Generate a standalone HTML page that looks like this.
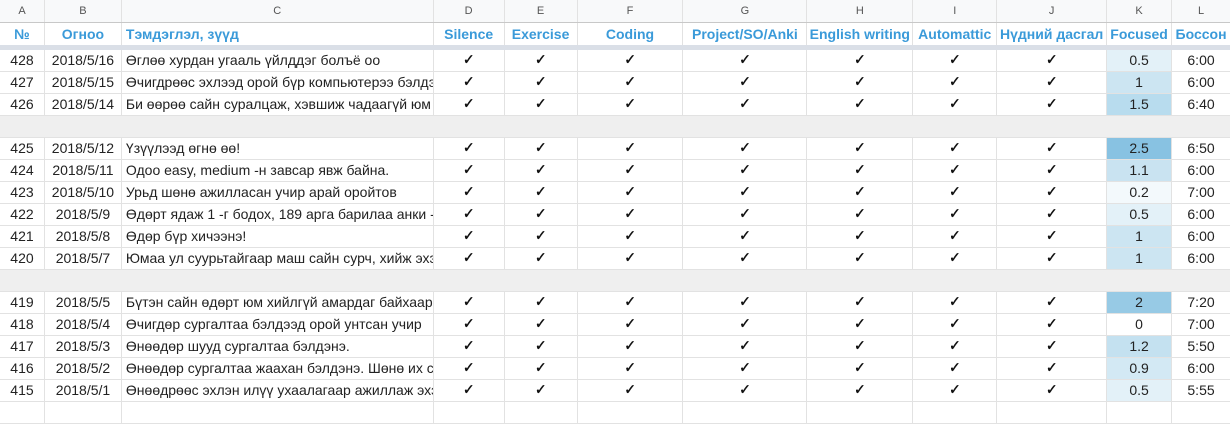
<!DOCTYPE html>
<html><head><meta charset="utf-8"><style>
*{margin:0;padding:0;box-sizing:border-box}
body{width:1230px;height:413px;overflow:hidden;background:#fff;font-family:"Liberation Sans",Arial,sans-serif;font-size:14px;color:#222;position:relative}
.r{position:absolute;left:0;width:1230px;height:22px;border-bottom:1px solid #e2e2e2;display:flex}
.r>div{height:100%;border-right:1px solid #e2e2e2;text-align:center;line-height:21px;white-space:nowrap;overflow:hidden}
.r>div:nth-child(1){width:45px}.r>div:nth-child(2){width:77px}.r>div:nth-child(3){width:312px;text-align:left;padding-left:4px}
.r>div:nth-child(4){width:71px}.r>div:nth-child(5){width:73px}.r>div:nth-child(6){width:106px}.r>div:nth-child(7){width:124px}
.r>div:nth-child(8){width:106px}.r>div:nth-child(9){width:84px}.r>div:nth-child(10){width:110px}.r>div:nth-child(11){width:65px}.r>div:nth-child(12){width:58px;border-right:none}
.cl{background:#f8f9fa;border-bottom:1px solid #c8c8c8 !important;height:23px !important}
.cl>div{font-size:11px;color:#555;line-height:22px}
.r.cl>div:nth-child(3){text-align:center;padding-left:0}
.hd>div{color:#3a9ad9;font-weight:bold;font-size:14px;line-height:23px}
.ck{font-family:"DejaVu Sans",sans-serif;font-size:14px;font-weight:bold;text-shadow:0.5px 0 0 #222,0 0.5px 0 #222;color:#111}
.g{position:absolute;left:0;width:1230px;height:22px;background:#efefef;border-bottom:1px solid #e2e2e2}
</style></head><body>
<div class="r cl" style="top:0"><div>A</div><div>B</div><div>C</div><div>D</div><div>E</div><div>F</div><div>G</div><div>H</div><div>I</div><div>J</div><div>K</div><div>L</div></div>
<div class="r hd" style="top:23px;border-bottom:none"><div>№</div><div>Огноо</div><div>Тэмдэглэл, зүүд</div><div>Silence</div><div>Exercise</div><div>Coding</div><div>Project/SO/Anki</div><div>English writing</div><div>Automattic</div><div>Нүдний дасгал</div><div>Focused</div><div>Боссон</div></div>
<div style="position:absolute;top:45px;left:0;width:1230px;height:5px;background:#dadfe7"></div>

<div class="r" style="top:50px"><div>428</div><div>2018/5/16</div><div>Өглөө хурдан угааль үйлддэг болъё оо</div><div class="ck">✓</div><div class="ck">✓</div><div class="ck">✓</div><div class="ck">✓</div><div class="ck">✓</div><div class="ck">✓</div><div class="ck">✓</div><div style="background:#e3f1f8">0.5</div><div>6:00</div></div>
<div class="r" style="top:72px"><div>427</div><div>2018/5/15</div><div>Өчигдрөөс эхлээд орой бүр компьютерээ бэлдэх</div><div class="ck">✓</div><div class="ck">✓</div><div class="ck">✓</div><div class="ck">✓</div><div class="ck">✓</div><div class="ck">✓</div><div class="ck">✓</div><div style="background:#cce5f2">1</div><div>6:00</div></div>
<div class="r" style="top:94px"><div>426</div><div>2018/5/14</div><div>Би өөрөө сайн суралцаж, хэвшиж чадаагүй юм байна</div><div class="ck">✓</div><div class="ck">✓</div><div class="ck">✓</div><div class="ck">✓</div><div class="ck">✓</div><div class="ck">✓</div><div class="ck">✓</div><div style="background:#b8dcee">1.5</div><div>6:40</div></div>
<div class="g" style="top:116px"></div>
<div class="r" style="top:138px"><div>425</div><div>2018/5/12</div><div>Үзүүлээд өгнө өө!</div><div class="ck">✓</div><div class="ck">✓</div><div class="ck">✓</div><div class="ck">✓</div><div class="ck">✓</div><div class="ck">✓</div><div class="ck">✓</div><div style="background:#88c2e2">2.5</div><div>6:50</div></div>
<div class="r" style="top:160px"><div>424</div><div>2018/5/11</div><div>Одоо easy, medium -н завсар явж байна.</div><div class="ck">✓</div><div class="ck">✓</div><div class="ck">✓</div><div class="ck">✓</div><div class="ck">✓</div><div class="ck">✓</div><div class="ck">✓</div><div style="background:#c9e3f1">1.1</div><div>6:00</div></div>
<div class="r" style="top:182px"><div>423</div><div>2018/5/10</div><div>Урьд шөнө ажилласан учир арай оройтов</div><div class="ck">✓</div><div class="ck">✓</div><div class="ck">✓</div><div class="ck">✓</div><div class="ck">✓</div><div class="ck">✓</div><div class="ck">✓</div><div style="background:#f3f9fc">0.2</div><div>7:00</div></div>
<div class="r" style="top:204px"><div>422</div><div>2018/5/9</div><div>Өдөрт ядаж 1 -г бодох, 189 арга барилаа анки -д</div><div class="ck">✓</div><div class="ck">✓</div><div class="ck">✓</div><div class="ck">✓</div><div class="ck">✓</div><div class="ck">✓</div><div class="ck">✓</div><div style="background:#e3f1f8">0.5</div><div>6:00</div></div>
<div class="r" style="top:226px"><div>421</div><div>2018/5/8</div><div>Өдөр бүр хичээнэ!</div><div class="ck">✓</div><div class="ck">✓</div><div class="ck">✓</div><div class="ck">✓</div><div class="ck">✓</div><div class="ck">✓</div><div class="ck">✓</div><div style="background:#cce5f2">1</div><div>6:00</div></div>
<div class="r" style="top:248px"><div>420</div><div>2018/5/7</div><div>Юмаа ул суурьтайгаар маш сайн сурч, хийж эхэлье</div><div class="ck">✓</div><div class="ck">✓</div><div class="ck">✓</div><div class="ck">✓</div><div class="ck">✓</div><div class="ck">✓</div><div class="ck">✓</div><div style="background:#cce5f2">1</div><div>6:00</div></div>
<div class="g" style="top:270px"></div>
<div class="r" style="top:292px"><div>419</div><div>2018/5/5</div><div>Бүтэн сайн өдөрт юм хийлгүй амардаг байхаар болъё</div><div class="ck">✓</div><div class="ck">✓</div><div class="ck">✓</div><div class="ck">✓</div><div class="ck">✓</div><div class="ck">✓</div><div class="ck">✓</div><div style="background:#97cae5">2</div><div>7:20</div></div>
<div class="r" style="top:314px"><div>418</div><div>2018/5/4</div><div>Өчигдөр сургалтаа бэлдээд орой унтсан учир</div><div class="ck">✓</div><div class="ck">✓</div><div class="ck">✓</div><div class="ck">✓</div><div class="ck">✓</div><div class="ck">✓</div><div class="ck">✓</div><div>0</div><div>7:00</div></div>
<div class="r" style="top:336px"><div>417</div><div>2018/5/3</div><div>Өнөөдөр шууд сургалтаа бэлдэнэ.</div><div class="ck">✓</div><div class="ck">✓</div><div class="ck">✓</div><div class="ck">✓</div><div class="ck">✓</div><div class="ck">✓</div><div class="ck">✓</div><div style="background:#c4e1f0">1.2</div><div>5:50</div></div>
<div class="r" style="top:358px"><div>416</div><div>2018/5/2</div><div>Өнөөдөр сургалтаа жаахан бэлдэнэ. Шөнө их сонин</div><div class="ck">✓</div><div class="ck">✓</div><div class="ck">✓</div><div class="ck">✓</div><div class="ck">✓</div><div class="ck">✓</div><div class="ck">✓</div><div style="background:#d3e9f4">0.9</div><div>6:00</div></div>
<div class="r" style="top:380px"><div>415</div><div>2018/5/1</div><div>Өнөөдрөөс эхлэн илүү ухаалагаар ажиллаж эхэлье</div><div class="ck">✓</div><div class="ck">✓</div><div class="ck">✓</div><div class="ck">✓</div><div class="ck">✓</div><div class="ck">✓</div><div class="ck">✓</div><div style="background:#e3f1f8">0.5</div><div>5:55</div></div>
<div class="r" style="top:402px"><div></div><div></div><div></div><div></div><div></div><div></div><div></div><div></div><div></div><div></div><div></div><div></div></div>
</body></html>
